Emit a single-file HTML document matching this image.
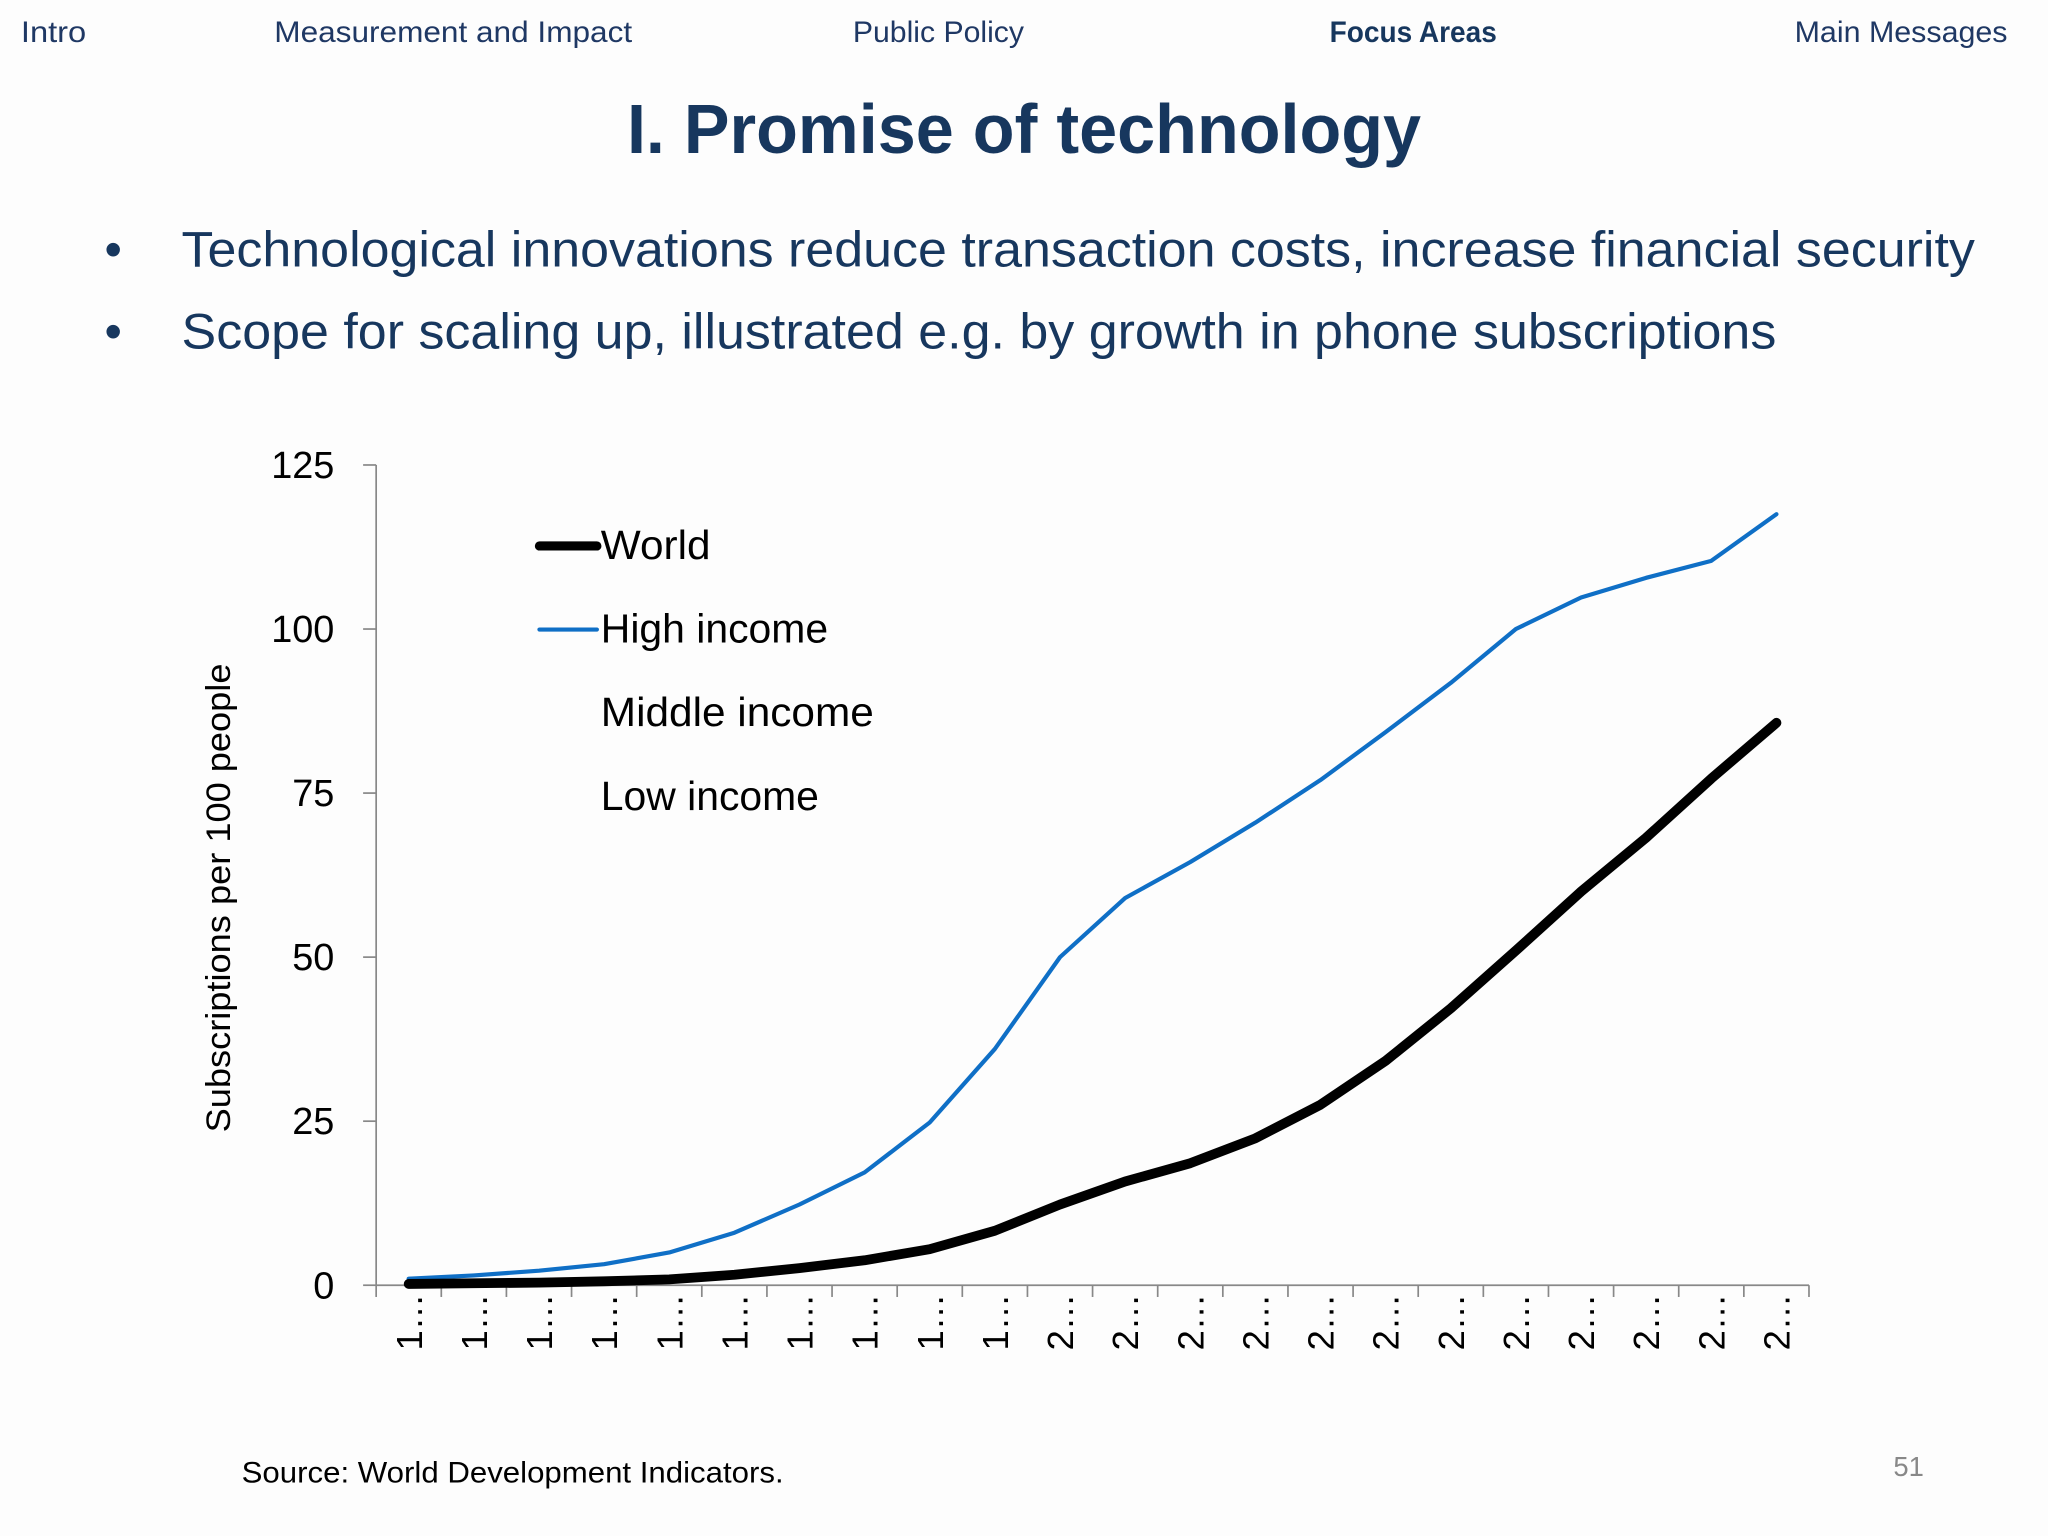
<!DOCTYPE html>
<html><head><meta charset="utf-8"><style>
html,body{margin:0;padding:0;background:#fdfdfd;}
svg{display:block;}
text{font-family:"Liberation Sans","DejaVu Sans",sans-serif;}
</style></head><body>
<svg width="2048" height="1536" viewBox="0 0 1568 1176">
<rect width="1568" height="1176" fill="#fdfdfd"/>
<g fill="#1f3864" font-size="23">
<text x="16" y="32" textLength="50" lengthAdjust="spacingAndGlyphs">Intro</text>
<text x="210" y="32" textLength="274" lengthAdjust="spacingAndGlyphs">Measurement and Impact</text>
<text x="653" y="32" textLength="131" lengthAdjust="spacingAndGlyphs">Public Policy</text>
<text x="1018" y="32" textLength="128" lengthAdjust="spacingAndGlyphs" font-weight="bold" fill="#17375e">Focus Areas</text>
<text x="1374" y="32" textLength="163" lengthAdjust="spacingAndGlyphs">Main Messages</text>
</g>
<text x="480" y="117" textLength="608" lengthAdjust="spacingAndGlyphs" font-size="53" font-weight="bold" fill="#17375e">I. Promise of technology</text>
<g fill="#17375e" font-size="38">
<text x="80" y="204">•</text><text x="139" y="204" textLength="1373" lengthAdjust="spacingAndGlyphs">Technological innovations reduce transaction costs, increase financial security</text>
<text x="80" y="267">•</text><text x="139" y="267" textLength="1221" lengthAdjust="spacingAndGlyphs">Scope for scaling up, illustrated e.g. by growth in phone subscriptions</text>
</g>
<g id="chart"></g>
<text x="185" y="1135" textLength="415" lengthAdjust="spacingAndGlyphs" font-size="23" fill="#000">Source: World Development Indicators.</text>
<text x="1473" y="1130" font-size="21" fill="#888" text-anchor="end">51</text>
</svg>
<script>
const categories=["1…","1…","1…","1…","1…","1…","1…","1…","1…","1…","2…","2…","2…","2…","2…","2…","2…","2…","2…","2…","2…","2…"];
const highIncome=[1,1.5,2.2,3.2,5,8,12.3,17.2,24.8,36,50,59,64.5,70.5,77,84.3,91.8,100,104.8,107.8,110.4,117.5];
const world=[0.2,0.3,0.4,0.6,0.9,1.6,2.6,3.8,5.5,8.3,12.3,15.8,18.6,22.4,27.5,34.2,42.2,51,60,68.2,77.2,85.7];
const yTicks=[0,25,50,75,100,125];
const NS="http://www.w3.org/2000/svg";
const g=document.getElementById('chart');
const x0=288,x1=1385,yBase=984,yTop=356,yMax=125;
const step=(x1-x0)/categories.length;
const xs=i=>x0+step*(i+0.5);
const ys=v=>yBase-(v/yMax)*(yBase-yTop);
function el(t,a){const e=document.createElementNS(NS,t);for(const k in a)e.setAttribute(k,a[k]);g.appendChild(e);return e;}
let e=el('line',{x1:x0,y1:yTop,x2:x0,y2:yBase,stroke:'#888','stroke-width':1.3});


e=el('line',{x1:x0,y1:yBase,x2:x1,y2:yBase,stroke:'#888','stroke-width':1.3});


yTicks.forEach(v=>{
 const t=el('line',{x1:x0-10,y1:ys(v),x2:x0,y2:ys(v),stroke:'#888','stroke-width':1.3});
 
 
 const l=el('text',{x:256,y:ys(v)+10,'text-anchor':'end','font-size':29,fill:'#000'});
 l.textContent=v;
 
 
});
for(let i=0;i<=categories.length;i++){
 const t=el('line',{x1:x0+step*i,y1:yBase,x2:x0+step*i,y2:yBase+9,stroke:'#888','stroke-width':1.3});
 
 
}
categories.forEach((c,i)=>{
 const x=xs(i)+10,y=1034;
 const l=el('text',{x:x,y:y,'font-size':28,fill:'#000',transform:`rotate(-90 ${x} ${y})`});
 l.textContent=c;
 
 
});
const yl=el('text',{x:-867,y:176,'font-size':26,fill:'#000',textLength:359,lengthAdjust:'spacingAndGlyphs',transform:'rotate(-90)'});
yl.textContent='Subscriptions per 100 people';


function path(d){return d.map((v,i)=>(i?'L':'M')+xs(i).toFixed(1)+' '+ys(v).toFixed(1)).join(' ');}
const hp=el('path',{d:path(highIncome),fill:'none',stroke:'#0f6fc6','stroke-width':3.2,'stroke-linejoin':'round','stroke-linecap':'round'});


const wp=el('path',{d:path(world),fill:'none',stroke:'#000','stroke-width':7.5,'stroke-linejoin':'round','stroke-linecap':'round'});


const legend=[['World','#000',7,418,84],['High income','#0f6fc6',3.2,482,174],['Middle income',null,0,546,209],['Low income',null,0,610,167]];
legend.forEach(([n,c,w,y,len])=>{
 if(c){const l=el('line',{x1:413,y1:y,x2:457,y2:y,stroke:c,'stroke-width':w,'stroke-linecap':'round'});
 
 }
 const t=el('text',{x:460,y:y+10,'font-size':31,fill:'#000',textLength:len,lengthAdjust:'spacingAndGlyphs'});
 t.textContent=n;
 
 
});
</script>
</body></html>
